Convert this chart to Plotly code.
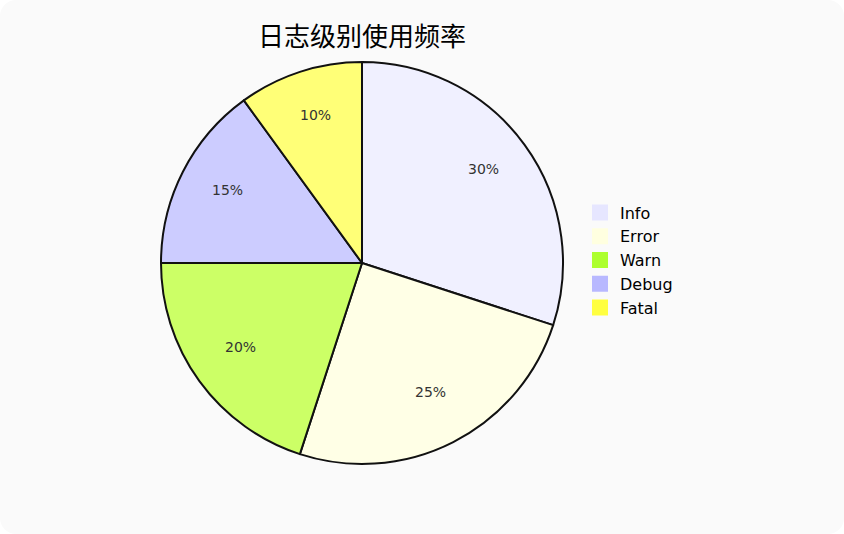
import math
import plotly.graph_objects as go

labels = ["Info", "Error", "Warn", "Debug", "Fatal"]
values = [30, 25, 20, 15, 10]
legend_colors = ["#E6E6FF", "#FFFFE0", "#ADFF2F", "#B8B8FF", "#FFFF40"]
slice_colors = ["#F0F0FF", "#FFFFE6", "#CCFF66", "#CCCCFF", "#FFFF77"]
title_text = "日志级别使用频率"

W, H = 844, 534
ml, mr, mt, mb = 160, 280, 62, 70
pw, ph = W - ml - mr, H - mt - mb
R = min(pw, ph) / 2

fig = go.Figure()
fig.add_trace(go.Pie(
    labels=labels,
    values=values,
    sort=False,
    direction="clockwise",
    rotation=0,
    marker=dict(colors=slice_colors, line=dict(color="#111111", width=2)),
    textinfo="none",
    hoverinfo="label+percent",
    showlegend=False,
))

# legend entries
for lab, col in zip(labels, legend_colors):
    fig.add_trace(go.Scatter(
        x=[None], y=[None], mode="markers", name=lab,
        marker=dict(symbol="square", size=18, color=col, line=dict(width=0)),
        showlegend=True, hoverinfo="skip",
    ))

# percentage labels placed along each slice's mid angle
total = sum(values)
annotations = []
cum = 0
for v in values:
    mid = (cum + v / 2) / total * 2 * math.pi
    cum += v
    r = 0.75 * R
    annotations.append(dict(
        x=0.5 + r * math.sin(mid) / pw,
        y=0.5 + (r * math.cos(mid) + 5) / ph,
        xref="paper", yref="paper", xanchor="center", yanchor="middle",
        showarrow=False,
        text=f"{round(v / total * 100)}%",
        font=dict(family="DejaVu Sans", size=14, color="#333333"),
    ))

fig.update_layout(
    width=W, height=H,
    margin=dict(l=ml, r=mr, t=mt, b=mb),
    paper_bgcolor="#FAFAFA",
    plot_bgcolor="#FAFAFA",
    xaxis=dict(visible=False),
    yaxis=dict(visible=False),
    annotations=annotations,
    title=dict(text=title_text, x=0.5, xref="paper", xanchor="center",
               y=1 - 37 / H, yref="container", yanchor="middle",
               font=dict(family="Noto Sans CJK SC", size=26, color="#000000")),
    legend=dict(x=1.0396, xanchor="left", y=0.5075, yanchor="middle",
                font=dict(family="DejaVu Sans", size=16, color="#000000"),
                bgcolor="rgba(0,0,0,0)", itemwidth=30, tracegroupgap=0),
    showlegend=True,
)

post = """
document.body.style.margin='0';
document.body.style.background='#FFFFFF';
var c=document.querySelector('.svg-container');
if(c){c.style.borderRadius='16px';c.style.overflow='hidden';}
"""
fig.write_html("out.html", post_script=post, config={"displayModeBar": False})
